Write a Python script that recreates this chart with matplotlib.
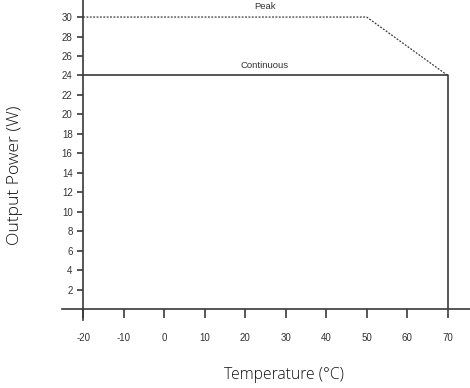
'''
Derating curve: output power vs ambient temperature
'''

import matplotlib.pyplot as plt

plt.rcParams['axes.unicode_minus'] = False

# continuous rating
cont_temp = [-20, 70, 70]
cont_power = [24, 24, 0]

# peak rating
peak_temp = [-20, 50, 70]
peak_power = [30, 30, 24]

x_ticks = [-20, -10, 0, 10, 20, 30, 40, 50, 60, 70]
y_ticks = [2, 4, 6, 8, 10, 12, 14, 16, 18, 20, 22, 24, 26, 28, 30]

line_col = '#3a3a3a'
text_col = '#333333'

fig = plt.figure(figsize=(4.7, 3.88), dpi=100)
ax = fig.add_axes([62/470, 68/388, 408/470, 320/388])
ax.set_xlim(-25.2, 75.5)
ax.set_ylim(-1.1, 31.75)

ax.plot(cont_temp, cont_power, color=line_col, lw=1.2, solid_capstyle='butt')
ax.plot(peak_temp, peak_power, color=line_col, lw=0.9, linestyle=(0, (1.5, 1.2)))

ax.text(24.8, 31.05, 'Peak', ha='center', va='center', fontsize=6.8,
		family='Liberation Sans', color=text_col)
ax.text(24.8, 25.0, 'Continuous', ha='center', va='center', fontsize=6.8,
		family='Liberation Sans', color=text_col)

for s in ['top', 'right']:
	ax.spines[s].set_visible(False)
ax.spines['left'].set_position(('data', -20))
ax.spines['bottom'].set_position(('data', 0))
ax.spines['left'].set_bounds(-1.1, 31.75)
ax.spines['bottom'].set_bounds(-25.2, 75.5)
for s in ['left', 'bottom']:
	ax.spines[s].set_color(line_col)
	ax.spines[s].set_linewidth(1.2)

ax.set_xticks(x_ticks)
ax.set_yticks(y_ticks)
ax.tick_params(axis='x', direction='out', length=6.5, width=1.2, color=line_col, pad=10.5,
			   labelsize=7, labelcolor=text_col)
ax.tick_params(axis='y', direction='out', length=4.5, width=1.2, color=line_col, pad=3,
			   labelsize=7, labelcolor=text_col)
for lab in ax.get_xticklabels() + ax.get_yticklabels():
	lab.set_family('Liberation Sans')

fig.text(284/470, 1 - 375/388, 'Temperature (°C)', ha='center', va='center',
		 fontsize=11.3, family='Open Sans', fontweight='light', color='#111111')
fig.text(15/470, 1 - 175/388, 'Output Power (W)', ha='center', va='center',
		 rotation='vertical', fontsize=12.6, family='Open Sans', fontweight='light',
		 color='#111111')

fig.savefig('out.png', dpi=100)
